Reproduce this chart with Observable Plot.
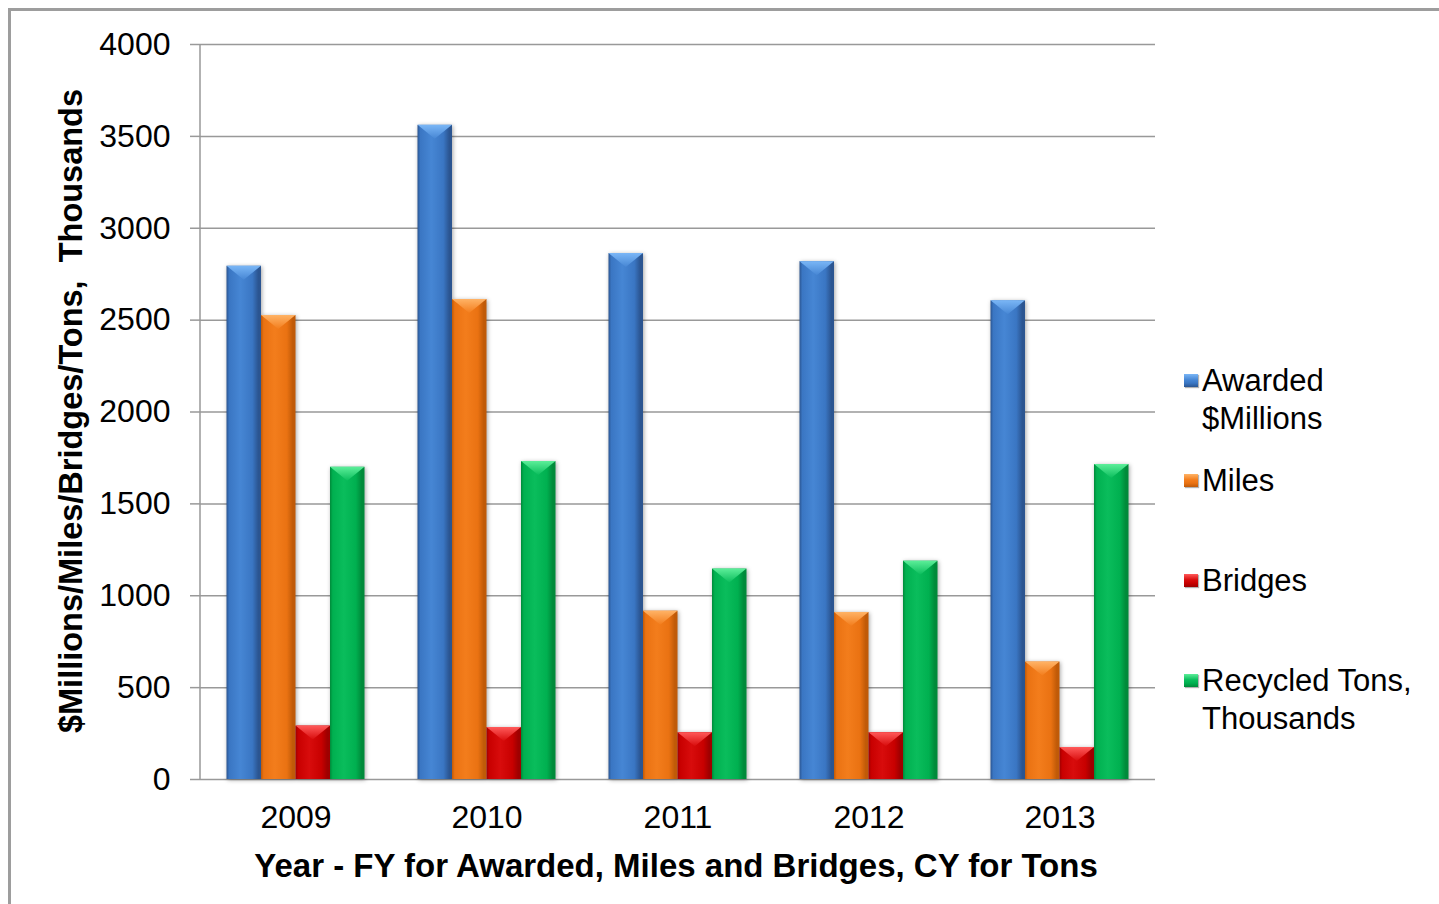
<!DOCTYPE html>
<html>
<head>
<meta charset="utf-8">
<script src="https://cdn.jsdelivr.net/npm/d3@7"></script>
<script src="https://cdn.jsdelivr.net/npm/@observablehq/plot@0.6"></script>
<style>
  html, body { margin: 0; padding: 0; background: #fff; }
  #wrap { position: relative; width: 1439px; height: 904px; overflow: hidden; font-family: "Liberation Sans", Arial, sans-serif; color: #000; }
  #frame { position: absolute; left: 8px; top: 8px; width: 2000px; height: 2000px; border-top: 3px solid #9d9d9d; border-left: 3px solid #9d9d9d; box-sizing: border-box; }
  #chart { position: absolute; left: 0; top: 0; }
  #ytitle { position: absolute; left: 71px; top: 411px; transform: translate(-50%, -50%) rotate(-90deg); white-space: pre; font-weight: bold; font-size: 32.5px; }
  #xtitle { position: absolute; left: 676px; top: 866px; transform: translate(-50%, -50%); white-space: pre; font-weight: bold; font-size: 33px; }
  #legend { position: absolute; left: 1184px; top: 362px; font-size: 31px; line-height: 38px; }
  .item { position: absolute; left: 0; white-space: nowrap; }
  .swatch { position: absolute; left: 0; top: 12px; width: 14px; height: 13px; }
  .label { position: absolute; left: 18px; top: 0; }
  svg g[aria-label^="y-axis"] line, svg g[aria-label="y-axis tick"] path { stroke: #999; stroke-width: 1.5px; }
  svg g[aria-label^="y-axis"] path.domain { display: none; }
</style>
</head>
<body>
<div id="wrap">
  <div id="frame"></div>
  <div id="chart"></div>
  <div id="ytitle">$Millions/Miles/Bridges/Tons,  Thousands</div>
  <div id="xtitle">Year - FY for Awarded, Miles and Bridges, CY for Tons</div>
  <div id="legend"></div>
</div>
<script>
// Project totals by year
const years = ["2009", "2010", "2011", "2012", "2013"];
const series = ["Awarded $Millions", "Miles", "Bridges", "Recycled Tons, Thousands"];
const awarded  = [2793, 3560, 2862, 2818, 2605];
const miles    = [2525, 2612, 916, 909, 639];
const bridges  = [291, 283, 255, 255, 174];
const recycled = [1699, 1730, 1145, 1188, 1714];
const yTicks = [0, 500, 1000, 1500, 2000, 2500, 3000, 3500, 4000];

// Legend text lines per series
const legendLines = [["Awarded", "$Millions"], ["Miles"], ["Bridges"], ["Recycled Tons,", "Thousands"]];

// Shading for the cylinder-like bars: [dark edge, body, highlight, cap light]
const shades = [
  ["#2b5591", "#3a76c3", "#4686d4", "#7ab6f6"],
  ["#c05a08", "#ea7212", "#f37d1c", "#ffb366"],
  ["#9e0000", "#c80000", "#d80c0c", "#ff5a5a"],
  ["#008a3a", "#00b050", "#0abd5c", "#5cee99"]
];

const values = [awarded, miles, bridges, recycled];
const rows = years.flatMap((year, i) => series.map((s, j) => ({year, series: s, value: values[j][i]})));

const gradIds = series.map((_, j) => `bodyGrad${j}`);
const capIds = series.map((_, j) => `capGrad${j}`);

const plot = Plot.plot({
  width: 1439,
  height: 904,
  marginLeft: 200,
  marginRight: 284,
  marginTop: 44,
  marginBottom: 125,
  style: {fontFamily: "'Liberation Sans', Arial, sans-serif", fontSize: "32px", color: "#000", background: "transparent", overflow: "visible"},
  facet: {data: rows, x: "year"},
  fx: {domain: years, padding: 0, label: null, axis: "bottom", tickSize: 0, tickPadding: 26},
  x: {domain: series, paddingInner: 0, paddingOuter: 0.768, axis: null, round: false},
  y: {domain: [0, 4000], ticks: 8, tickSize: 10, tickPadding: 20, label: null, tickFormat: d => String(d)},
  color: {domain: series, range: gradIds.map(id => `url(#${id})`)},
  marks: [
    Plot.ruleY(yTicks, {stroke: "#999", strokeWidth: 1.5}),
    Plot.barY(rows, {x: "series", y: "value", fill: "series", inset: 0})
  ]
});
document.getElementById("chart").appendChild(plot);

const svg = d3.select(plot);

// Gradient definitions for bar bodies and top caps
const defs = svg.insert("defs", ":first-child");
shades.forEach((c, j) => {
  const g = defs.append("linearGradient").attr("id", gradIds[j]).attr("x1", 0).attr("x2", 1).attr("y1", 0).attr("y2", 0);
  [[0, c[0]], [0.08, c[1]], [0.4, c[2]], [0.75, c[1]], [0.92, c[0]], [1, c[0]]]
    .forEach(([o, col]) => g.append("stop").attr("offset", o).attr("stop-color", col));
  const cg = defs.append("linearGradient").attr("id", capIds[j]).attr("x1", 0).attr("x2", 0).attr("y1", 0).attr("y2", 1);
  cg.append("stop").attr("offset", 0).attr("stop-color", c[3]);
  cg.append("stop").attr("offset", 1).attr("stop-color", c[2]);
});

// Bevelled top on each bar, sized from the rendered bar
svg.selectAll('g[aria-label="bar"]').each(function () {
  const g = d3.select(this);
  g.style("filter", "drop-shadow(1px 1px 2px rgba(0,0,0,0.35))");
  g.selectAll("rect").each(function () {
    const r = d3.select(this);
    const fill = r.attr("fill") || "";
    const j = gradIds.findIndex(id => fill.includes(id));
    if (j < 0) return;
    const x = +r.attr("x"), y = +r.attr("y"), w = +r.attr("width"), h = +r.attr("height");
    const d = Math.min(14, h);
    d3.select(this.parentNode).append("polygon")
      .attr("points", `${x},${y} ${x + w},${y} ${x + w / 2},${y + d}`)
      .attr("fill", `url(#${capIds[j]})`);
  });
});

// Vertical axis line along the left edge of the plot area
const fxRange = plot.scale("fx").range;
const yRange = plot.scale("y").range;
svg.append("line")
  .attr("x1", fxRange[0]).attr("x2", fxRange[0])
  .attr("y1", yRange[0]).attr("y2", yRange[1])
  .attr("stroke", "#999").attr("stroke-width", 1.5);

// Legend
const legend = d3.select("#legend");
series.forEach((s, j) => {
  const item = legend.append("div").attr("class", "item").style("top", `${j * 100}px`);
  const c = shades[j];
  item.append("div").attr("class", "swatch")
    .style("background", `linear-gradient(to bottom, ${c[3]} 0%, ${c[2]} 45%, ${c[1]} 70%, ${c[0]} 100%)`)
    .style("box-shadow", "1px 1px 1px rgba(0,0,0,0.3)");
  item.append("div").attr("class", "label").html(legendLines[j].join("<br>"));
});
</script>
</body>
</html>
